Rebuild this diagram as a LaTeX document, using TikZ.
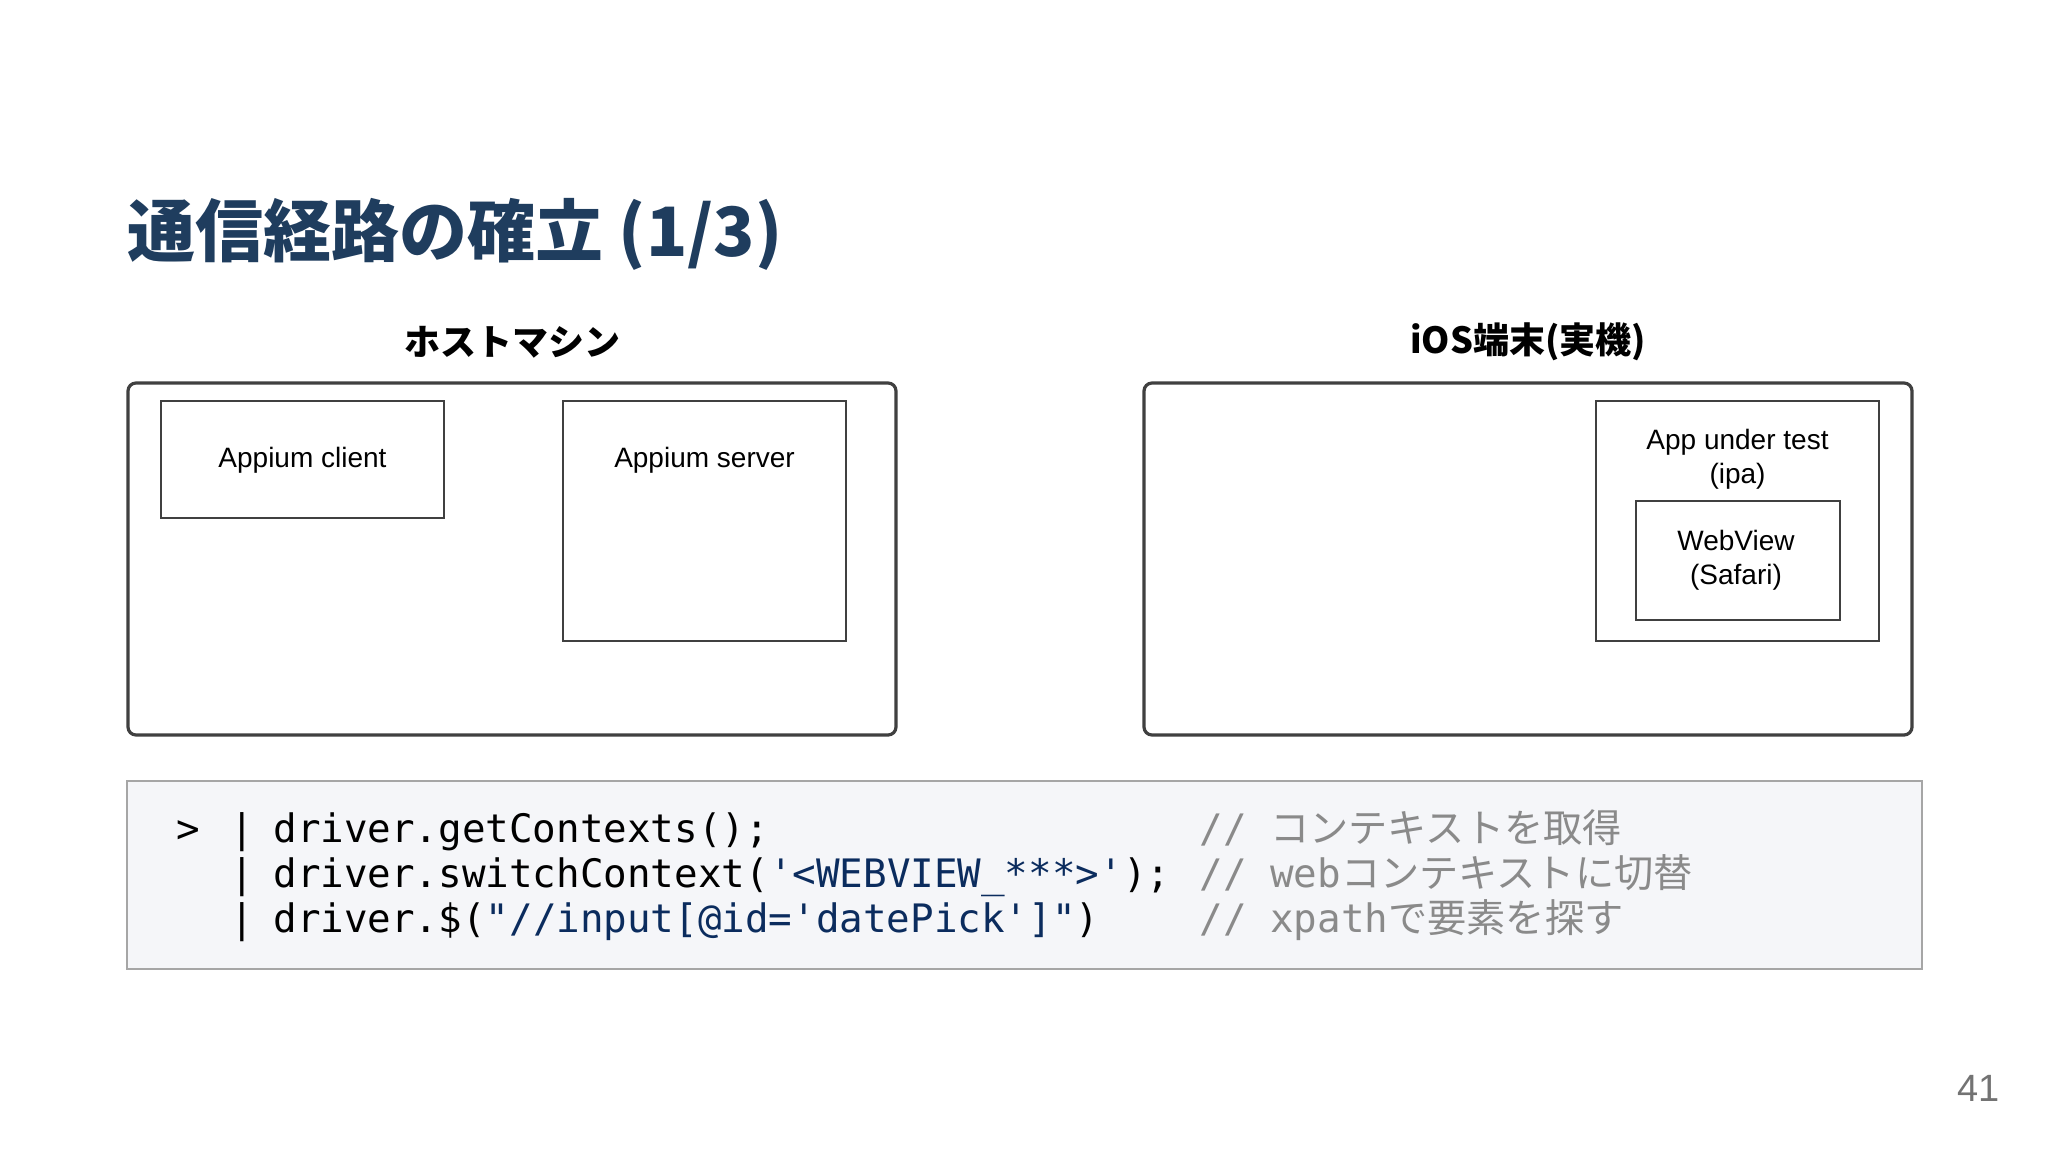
\documentclass[tikz,border=0pt]{standalone}
\usepackage{fontspec}
\setmainfont{Liberation Sans}
\setmonofont{DejaVu Sans Mono}
\newfontfamily\cjk{Noto Sans CJK JP}
\definecolor{titleblue}{HTML}{1F3D5E}
\definecolor{codebg}{HTML}{F5F6F9}
\definecolor{codeblue}{HTML}{0B2C5E}
\definecolor{cmtgray}{HTML}{8A8A8A}
\tikzset{
  frame/.style={draw=black!75,line width=1.6pt,rounded corners=4pt},
  inbox/.style={draw=black!75,line width=1.4pt},
  lbl/.style={font=\fontsize{14}{17}\selectfont,align=center,inner sep=0},
  head/.style={font=\cjk\bfseries\fontsize{18}{22}\selectfont,inner sep=0},
  code/.style={font=\ttfamily\fontsize{19.6}{23}\selectfont,anchor=base west,inner sep=0},
}
\begin{document}
\begin{tikzpicture}[x=0.5pt,y=-0.5pt]
\useasboundingbox[fill=white] (0,0) rectangle (2048,1152);
\node[anchor=base west,inner sep=0,text=titleblue,font=\cjk\bfseries\fontsize{34}{40}\selectfont] (title) at (127,256) {通信経路の確立 (1/3)};
% left
\node[head] (hl) at (512,342) {ホストマシン};
\draw[frame] (128,383) rectangle (896,735);
\draw[inbox] (161,401) rectangle (444,518);
\node[lbl] (ac) at (302.5,460) {Appium client};
\draw[inbox] (563,401) rectangle (846,641);
\node[lbl] (as) at (704.5,460) {Appium server};
% right
\node[head] (hr) at (1528,342) {iOS端末(実機)};
\draw[frame] (1144,383) rectangle (1912,735);
\draw[inbox] (1596,401) rectangle (1879,641);
\node[lbl] (app) at (1737.5,459) {App under test\\(ipa)};
\draw[inbox] (1636,501) rectangle (1840,620);
\node[lbl] (wv) at (1736,560) {WebView\\(Safari)};
% code
\draw[fill=codebg,draw=black!35,line width=1pt] (127,781) rectangle (1922,969);
\node[code] (p) at (176,842) {>};
\node[code] (b1) at (230,842) {|};
\node[code] (b2) at (230,887) {|};
\node[code] (b3) at (230,932) {|};
\node[code] (c1) at (273,842) {driver.getContexts();};
\node[code] (c2) at (273,887) {driver.switchContext(\textcolor{codeblue}{'<WEBVIEW\_***>'});};
\node[code] (c3) at (273,932) {driver.\$(\textcolor{codeblue}{"//input[@id='datePick']"})};
\node[code,text=cmtgray] (m1) at (1199,842) {// {\cjk コンテキストを取得}};
\node[code,text=cmtgray] (m2) at (1199,887) {// web{\cjk コンテキストに切替}};
\node[code,text=cmtgray] (m3) at (1199,932) {// xpath{\cjk で要素を探す}};
\node[anchor=base east,inner sep=0,text=black!55,font=\fontsize{19}{22}\selectfont] (pg) at (2000,1101) {41};
\end{tikzpicture}
\end{document}
